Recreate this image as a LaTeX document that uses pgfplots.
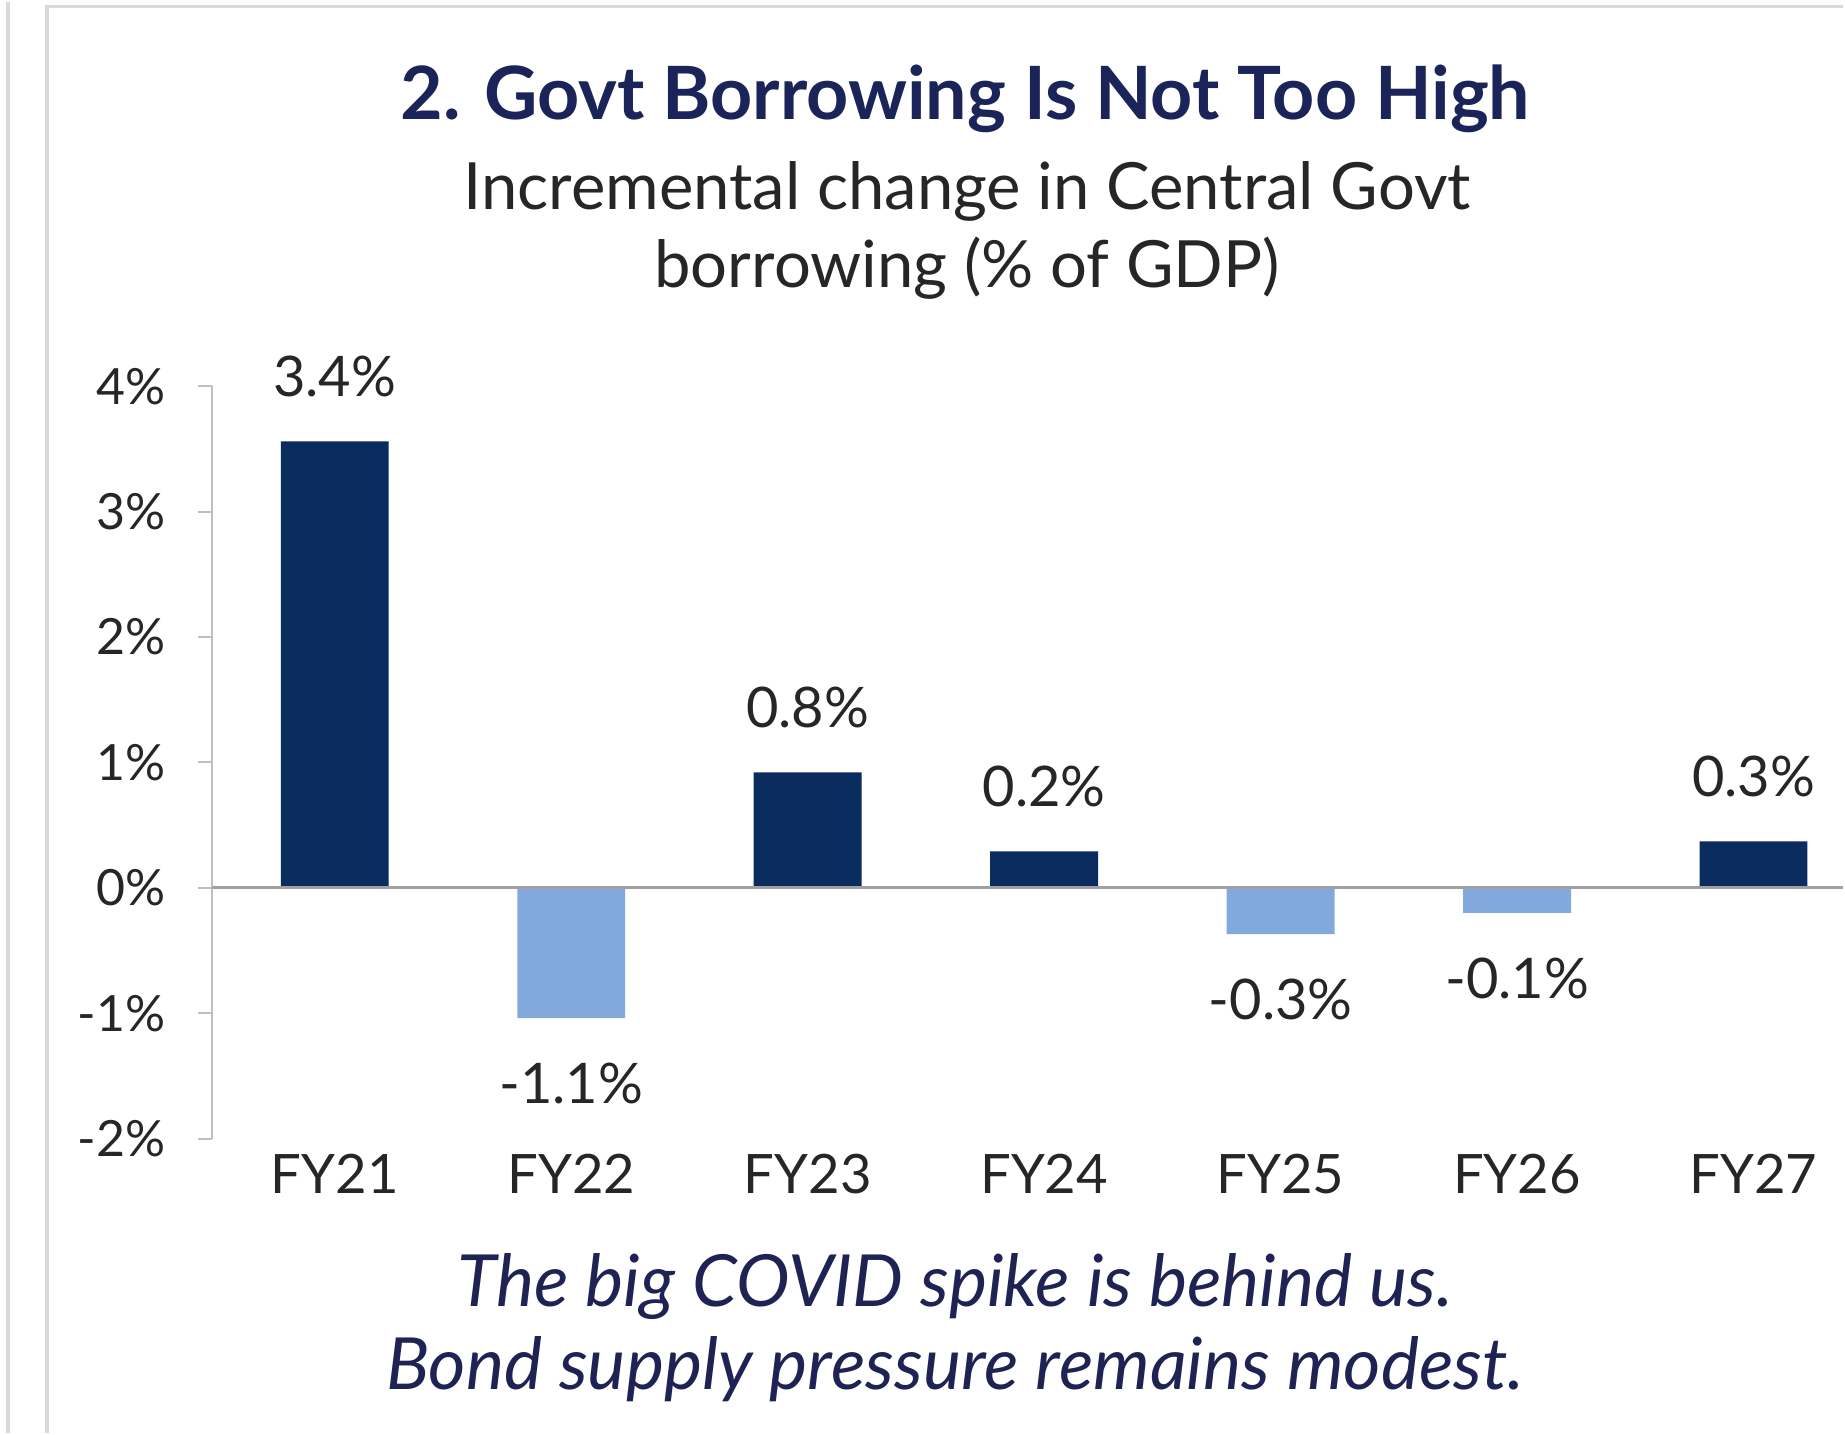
\documentclass[border=0pt]{standalone}
\usepackage{pgfplots}
\pgfplotsset{compat=1.18}
\usepackage{pgfplotstable}
\usepackage{fontspec}
\setmainfont{Lato}
\definecolor{navy}{HTML}{0B2C5F}
\definecolor{lightblue}{HTML}{82A9DB}
\definecolor{titlecol}{HTML}{1B2458}
\definecolor{footcol}{HTML}{1E2354}
\definecolor{framegray}{HTML}{D9D9D9}
\definecolor{axisgray}{HTML}{BFBFBF}
\definecolor{zerogray}{HTML}{A0A0A0}

\pgfplotstableread{
x y label
0 3.56 3.4
2 0.92 0.8
3 0.29 0.2
6 0.37 0.3
}\postab
\pgfplotstableread{
x y label
1 -1.04 -1.1
4 -0.37 -0.3
5 -0.20 -0.1
}\negtab

\begin{document}
\begin{tikzpicture}
\path[fill=white] (0,0) rectangle (461.25pt,358.25pt);
\draw[framegray, line width=0.8pt] (2pt,0) -- (2pt,358.25pt);
\draw[framegray, line width=0.8pt] (11.75pt,0) -- (11.75pt,357pt) -- (461.25pt,357pt);
\begin{axis}[
  at={(53pt,73.75pt)}, anchor=south west,
  scale only axis, width=408.25pt, height=188.25pt,
  xmin=-0.52, xmax=6.38, ymin=-2, ymax=4,
  axis y line*=left, axis x line*=bottom,
  x axis line style={draw=none},
  y axis line style={draw=axisgray, line width=0.5pt},
  ytick={-2,-1,0,1,2,3,4},
  yticklabels={-2\%,-1\%,0\%,1\%,2\%,3\%,4\%},
  xtick={0,1,2,3,4,5,6},
  xticklabels={FY21,FY22,FY23,FY24,FY25,FY26,FY27},
  xtick style={draw=none},
  ytick style={draw=axisgray, line width=0.5pt},
  tick align=outside, major tick length=3.5pt,
  yticklabel style={font=\fontsize{12.5}{15}\selectfont, text=black!85, anchor=east, inner sep=0pt, xshift=-8pt},
  xticklabel style={font=\fontsize{13.6}{16}\selectfont, text=black!85, anchor=base, inner sep=0pt, yshift=-10.2pt},
  ybar, bar width=27pt, bar shift=0pt,
  point meta=explicit symbolic,
  nodes near coords={\pgfplotspointmeta\%},
  every node near coord/.append style={font=\fontsize{14}{17}\selectfont, text=black!85, inner xsep=0pt, inner ysep=11pt},
  clip=false,
]
\addplot[fill=navy, draw=none] table[x=x, y=y, meta=label] {\postab};
\addplot[fill=lightblue, draw=none, every node near coord/.append style={anchor=north}] table[x=x, y=y, meta=label] {\negtab};
\draw[zerogray, line width=0.8pt] (axis cs:-0.52,0) -- (axis cs:6.38,0);
\end{axis}
\node[anchor=base, font=\bfseries\fontsize{18.4}{22}\selectfont, text=titlecol] at (241.5pt,328.75pt) {2. Govt Borrowing Is Not Too High};
\node[anchor=base, font=\fontsize{16.3}{19}\selectfont, text=black!85] at (242pt,306.25pt) {Incremental change in Central Govt};
\node[anchor=base, font=\fontsize{16.3}{19}\selectfont, text=black!85] at (242pt,286.75pt) {borrowing (\% of GDP)};
\node[anchor=base, font=\itshape\fontsize{18}{21}\selectfont, text=footcol] at (239pt,31.75pt) {The big COVID spike is behind us.};
\node[anchor=base, font=\itshape\fontsize{18}{21}\selectfont, text=footcol] at (239pt,11pt) {Bond supply pressure remains modest.};
\end{tikzpicture}
\end{document}
